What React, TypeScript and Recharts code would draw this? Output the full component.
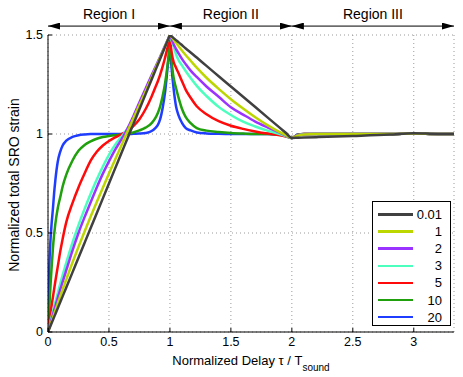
import { LineChart, Line, XAxis, YAxis, CartesianGrid, ReferenceLine } from "recharts";

// normalized delay tau / T_sound
const delay = [
  0, 0.005, 0.01, 0.02, 0.03, 0.04, 0.05, 0.06, 0.08, 0.1,
  0.12, 0.15, 0.2, 0.25, 0.3, 0.35, 0.4, 0.45, 0.5, 0.55,
  0.6, 0.65, 0.7, 0.75, 0.8, 0.85, 0.88, 0.9, 0.92, 0.94,
  0.96, 0.98, 0.99, 1.0, 1.01, 1.02, 1.03, 1.05, 1.07, 1.1,
  1.13, 1.17, 1.22, 1.3, 1.4, 1.5, 1.6, 1.7, 1.8, 1.9,
  1.95, 2.0, 2.05, 2.1, 2.2, 2.5, 2.8, 3.0, 3.2, 3.33,
];

const strain001 = [
  0, 0.0075, 0.015, 0.03, 0.045, 0.06, 0.075, 0.09, 0.12, 0.15,
  0.18, 0.225, 0.3, 0.375, 0.45, 0.525, 0.6, 0.675, 0.75, 0.825,
  0.9, 0.975, 1.05, 1.125, 1.2, 1.275, 1.32, 1.35, 1.38, 1.41,
  1.44, 1.47, 1.485, 1.5, 1.495, 1.49, 1.484, 1.474, 1.464, 1.448,
  1.432, 1.412, 1.386, 1.344, 1.292, 1.24, 1.188, 1.136, 1.084, 1.032,
  1.006, 0.98, 0.981, 0.982, 0.984, 0.99, 0.997, 1.004, 1.0, 1.0,
];
const strain1 = [
  0, 0.009, 0.018, 0.036, 0.054, 0.072, 0.09, 0.108, 0.144, 0.18,
  0.215, 0.266, 0.35, 0.43, 0.508, 0.583, 0.657, 0.729, 0.8, 0.87,
  0.94, 1.01, 1.078, 1.147, 1.215, 1.286, 1.328, 1.357, 1.386, 1.414,
  1.443, 1.471, 1.486, 1.5, 1.492, 1.484, 1.476, 1.46, 1.444, 1.42,
  1.398, 1.37, 1.335, 1.284, 1.228, 1.176, 1.129, 1.085, 1.045, 1.01,
  0.995, 0.98, 0.992, 0.998, 1.0, 1.0, 1.0, 1.003, 1.0, 1.0,
];
const strain2 = [
  0, 0.011, 0.022, 0.044, 0.066, 0.088, 0.109, 0.13, 0.172, 0.213,
  0.253, 0.312, 0.41, 0.5, 0.58, 0.655, 0.73, 0.8, 0.862, 0.92,
  0.97, 1.025, 1.09, 1.16, 1.228, 1.297, 1.337, 1.363, 1.39, 1.418,
  1.446, 1.473, 1.487, 1.5, 1.485, 1.47, 1.455, 1.43, 1.408, 1.378,
  1.352, 1.32, 1.288, 1.24, 1.188, 1.135, 1.098, 1.063, 1.034, 1.007,
  0.993, 0.98, 0.993, 0.998, 1.0, 1.0, 1.0, 1.003, 1.0, 1.0,
];
const strain3 = [
  0, 0.013, 0.026, 0.052, 0.077, 0.102, 0.126, 0.15, 0.197, 0.243,
  0.287, 0.35, 0.45, 0.54, 0.622, 0.698, 0.77, 0.836, 0.895, 0.945,
  0.985, 1.025, 1.08, 1.145, 1.215, 1.287, 1.33, 1.36, 1.388, 1.417,
  1.445, 1.472, 1.485, 1.495, 1.478, 1.46, 1.443, 1.403, 1.374, 1.345,
  1.317, 1.283, 1.243, 1.192, 1.137, 1.096, 1.062, 1.038, 1.017, 1.0,
  0.99, 0.98, 0.994, 0.999, 1.0, 1.0, 1.0, 1.003, 1.0, 1.0,
];
const strain5 = [
  0, 0.025, 0.05, 0.095, 0.135, 0.175, 0.215, 0.255, 0.33, 0.405,
  0.47, 0.555, 0.65, 0.73, 0.8, 0.865, 0.91, 0.942, 0.965, 0.983,
  0.998, 1.015, 1.04, 1.075, 1.125, 1.19, 1.235, 1.265, 1.3, 1.34,
  1.385, 1.435, 1.46, 1.48, 1.43, 1.39, 1.365, 1.335, 1.308, 1.265,
  1.223, 1.183, 1.14, 1.1, 1.065, 1.042, 1.026, 1.013, 1.002, 0.993,
  0.987, 0.98, 0.995, 1.0, 1.0, 1.0, 1.0, 1.003, 1.0, 1.0,
];
const strain10 = [
  0, 0.06, 0.12, 0.23, 0.33, 0.42, 0.49, 0.545, 0.625, 0.68,
  0.735, 0.795, 0.865, 0.915, 0.945, 0.963, 0.976, 0.985, 0.99, 0.994,
  0.997, 1.002, 1.008, 1.018, 1.032, 1.055, 1.08, 1.105, 1.14, 1.19,
  1.255, 1.345, 1.4, 1.47, 1.4, 1.33, 1.285, 1.232, 1.185, 1.125,
  1.085, 1.055, 1.03, 1.017, 1.01, 1.005, 1.002, 1.0, 1.0, 0.997,
  0.99, 0.98, 0.996, 1.0, 1.0, 1.0, 1.0, 1.003, 1.0, 1.0,
];
const strain20 = [
  0, 0.2, 0.32, 0.46, 0.55, 0.62, 0.7, 0.765, 0.86, 0.91,
  0.942, 0.966, 0.985, 0.994, 0.998, 1.0, 1.0, 1.0, 1.0, 1.0,
  1.0, 1.0, 1.001, 1.002, 1.005, 1.015, 1.03, 1.045, 1.075, 1.13,
  1.21, 1.33, 1.39, 1.44, 1.36, 1.29, 1.23, 1.14, 1.095, 1.055,
  1.03, 1.018, 1.008, 1.003, 1.001, 1.0, 1.0, 1.0, 1.0, 0.997,
  0.99, 0.98, 0.997, 1.0, 1.0, 1.0, 1.0, 1.003, 1.0, 1.0,
];

const xTicks = [0, 0.5, 1, 1.5, 2, 2.5, 3];
const yTicks = [0, 0.5, 1, 1.5];
const regionNames = ["Region I", "Region II", "Region III"];
const regionEdges = [0, 1, 2, 3.33];

const SERIES = [
  { key: "s001", name: "0.01", color: "#404040", values: strain001 },
  { key: "s1", name: "1", color: "#bcd600", values: strain1 },
  { key: "s2", name: "2", color: "#9a33ff", values: strain2 },
  { key: "s3", name: "3", color: "#4cffbe", values: strain3 },
  { key: "s5", name: "5", color: "#ff0a0a", values: strain5 },
  { key: "s10", name: "10", color: "#1fa00c", values: strain10 },
  { key: "s20", name: "20", color: "#1f3dff", values: strain20 },
];

const rows = delay.map((x, i) => {
  const row: any = { x };
  SERIES.forEach((s) => { row[s.key] = s.values[i]; });
  return row;
});

const FONT = "Liberation Sans, Arial, sans-serif";
const tickStyle = { fontSize: 12.5, fill: "#000", fontFamily: FONT };

const LegendBox = () => (
  <div style={{
    position: "absolute", left: 372, top: 201, width: 79, height: 125,
    border: "1px solid #000", background: "#fff", boxSizing: "border-box",
    paddingTop: 4, fontFamily: FONT, fontSize: 13,
  }}>
    {SERIES.map((s) => (
      <div key={s.key} style={{ display: "flex", alignItems: "center", height: 17.1 }}>
        <span style={{ marginLeft: 5, width: 35, height: 2.5, background: s.color, display: "inline-block" }} />
        <span style={{ flex: 1, textAlign: "right", paddingRight: 8 }}>{s.name}</span>
      </div>
    ))}
  </div>
);

export default function App() {
  return (
    <div style={{ position: "absolute", left: 0, top: 0, width: 463, height: 377, background: "#fff", fontFamily: FONT }}>
      <LineChart width={463} height={377} data={rows} margin={{ top: 35, right: 9, bottom: 0, left: 0 }}>
        <defs>
          <marker id="arrowHead" markerWidth="12" markerHeight="7" refX="12" refY="3.5" orient="auto-start-reverse" markerUnits="userSpaceOnUse">
            <path d="M0,0 L12,3.5 L0,7 z" fill="#000" />
          </marker>
        </defs>
        <CartesianGrid stroke="#9a9a9a" strokeDasharray="1 3" />
        <XAxis
          dataKey="x" type="number" domain={[0, 3.33]} ticks={xTicks} allowDataOverflow height={45}
          tick={tickStyle} tickSize={-4} tickMargin={9} axisLine={{ stroke: "#000" }} tickLine={{ stroke: "#000" }}
          label={() => (
            <text x={251} y={365} textAnchor="middle" fontSize={13} fontFamily={FONT} fill="#000">
              Normalized Delay τ / T<tspan dy={6} fontSize={10}>sound</tspan>
            </text>
          )}
        />
        <XAxis
          xAxisId="top" orientation="top" dataKey="x" type="number" domain={[0, 3.33]} ticks={xTicks} allowDataOverflow
          height={0} tickSize={-4} tickFormatter={() => ""} axisLine={{ stroke: "#000" }} tickLine={{ stroke: "#000" }}
        />
        <YAxis
          type="number" domain={[0, 1.5]} ticks={yTicks} width={48} allowDataOverflow
          tick={tickStyle} tickSize={-4} tickMargin={9} axisLine={{ stroke: "#000" }} tickLine={{ stroke: "#000" }}
          label={() => (
            <text x={14} y={185} transform="rotate(-90 14 185)" textAnchor="middle" dominantBaseline="central" fontSize={14} fontFamily={FONT} fill="#000">
              Normalized total SRO strain
            </text>
          )}
        />
        <YAxis
          yAxisId="right" orientation="right" type="number" domain={[0, 1.5]} ticks={yTicks} width={0} allowDataOverflow
          tickSize={-4} tickFormatter={() => ""} axisLine={{ stroke: "#000" }} tickLine={{ stroke: "#000" }}
        />
        {[...SERIES].reverse().map((s) => (
          <Line key={s.key} dataKey={s.key} name={s.name} type="monotone" stroke={s.color} strokeWidth={2.5} dot={false} isAnimationActive={false} />
        ))}
        {regionNames.map((name, i) => (
          <ReferenceLine
            key={name}
            segment={[{ x: regionEdges[i], y: 1.545 }, { x: regionEdges[i + 1], y: 1.545 }]}
            ifOverflow="visible" stroke="#000" strokeWidth={1}
            markerStart="url(#arrowHead)" markerEnd="url(#arrowHead)"
            label={{ value: name, position: "top", offset: 7, fill: "#000", fontSize: 14, fontFamily: FONT }}
          />
        ))}
      </LineChart>
      <LegendBox />
    </div>
  );
}
